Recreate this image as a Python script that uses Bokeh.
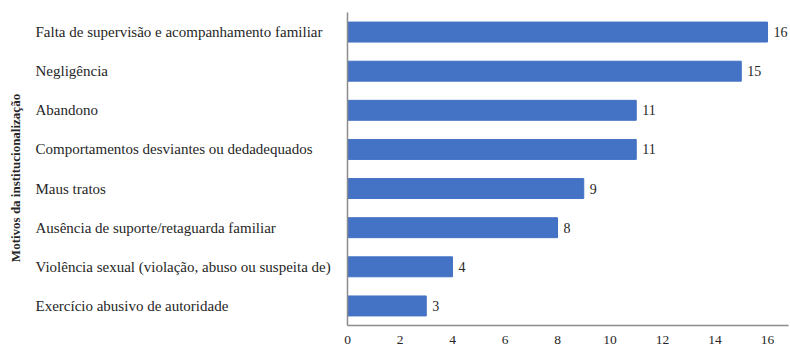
import math
from bokeh.plotting import figure
from bokeh.models import Range1d, ColumnDataSource, Label
from bokeh.embed import file_html
from bokeh.resources import INLINE

categories = [
    "Falta de supervisão e acompanhamento familiar",
    "Negligência",
    "Abandono",
    "Comportamentos desviantes ou dedadequados",
    "Maus tratos",
    "Ausência de suporte/retaguarda familiar",
    "Violência sexual (violação, abuso ou suspeita de)",
    "Exercício abusivo de autoridade",
]
counts = [16, 15, 11, 11, 9, 8, 4, 3]
x_ticks = [0, 2, 4, 6, 8, 10, 12, 14, 16]
axis_title = "Motivos da institucionalização"

FONT = "Liberation Serif"
TEXT_COLOR = "#262626"
BAR_COLOR = "#4472C4"
AXIS_COLOR = "#8c8c8c"

W, H = 790, 348
n = len(categories)

# pixel layout helpers (screen px -> data units)
zero_px, xpu = 347, 26.25          # x: px of 0, px per unit
axis_px, ypu = 325, 39.125         # y: px of bottom axis line, px per category
x_start = -zero_px / xpu
x_end = x_start + W / xpu
y_bottom = -0.5
y_start = y_bottom - (H - axis_px) / ypu
y_end = y_start + H / ypu
def xd(px): return (px - zero_px) / xpu
def yd(px): return y_bottom + (axis_px - px) / ypu

ypos = [n - 1 - i for i in range(n)]
source = ColumnDataSource(dict(y=ypos, val=counts))

p = figure(width=W, height=H, output_backend="svg", toolbar_location=None,
           x_range=Range1d(x_start, x_end), y_range=Range1d(y_start, y_end),
           min_border=0)
p.outline_line_color = None
p.grid.grid_line_color = None
p.axis.visible = False
p.background_fill_color = "white"
p.border_fill_color = "white"

p.hbar(y="y", right="val", left=0, height=0.51, source=source,
       fill_color=BAR_COLOR, line_color=BAR_COLOR)

# axis lines
p.segment(x0=[0, 0], y0=[y_bottom, y_bottom], x1=[0, xd(788)], y1=[n - 0.5, y_bottom],
          line_color=AXIS_COLOR, line_width=1.5)

lab_dx = 6 / xpu
for cat, v, y in zip(categories, counts, ypos):
    p.add_layout(Label(x=v + lab_dx, y=y, text=str(v),
                       text_font=FONT, text_font_size="14px", text_color=TEXT_COLOR,
                       text_baseline="middle", text_align="left"))
    p.add_layout(Label(x=xd(35), y=y, text=cat,
                       text_font=FONT, text_font_size="15px", text_color=TEXT_COLOR,
                       text_baseline="middle", text_align="left"))

for t in x_ticks:
    p.add_layout(Label(x=t, y=yd(339), text=str(t),
                       text_font=FONT, text_font_size="13.5px", text_color=TEXT_COLOR,
                       text_baseline="middle", text_align="center"))

p.add_layout(Label(x=xd(15), y=yd(177.5), text=axis_title, angle=math.pi / 2,
                   text_font=FONT, text_font_style="bold", text_font_size="13px",
                   text_color=TEXT_COLOR, text_baseline="middle", text_align="center"))

open("out.html", "w").write(file_html(p, INLINE))
